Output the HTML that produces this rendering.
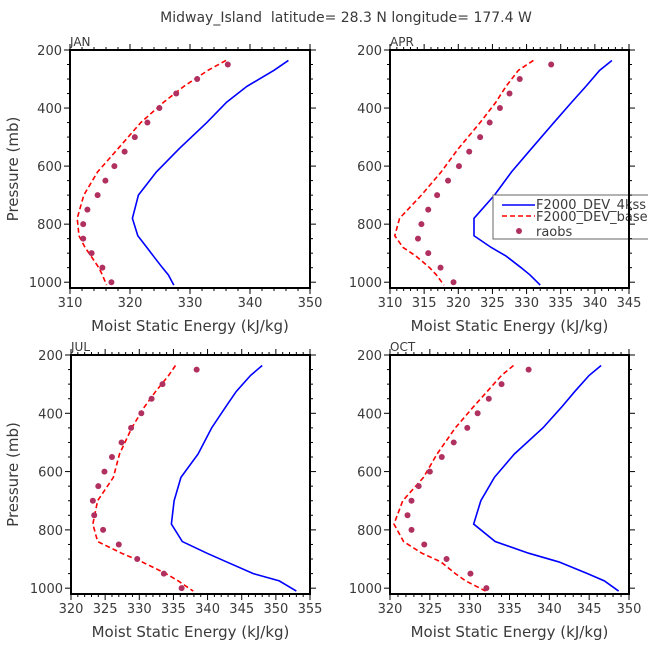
<!DOCTYPE html>
<html><head><meta charset="utf-8"><style>
html,body{margin:0;padding:0;background:#fff;}
svg text{font-family:"DejaVu Sans","Liberation Sans",sans-serif;fill:#3a3a3a;}
</style></head><body>
<svg id="chart" width="648" height="648" viewBox="0 0 648 648" xmlns="http://www.w3.org/2000/svg">
<text x="346" y="22" font-size="14" text-anchor="middle" xml:space="preserve">Midway_Island  latitude= 28.3 N longitude= 177.4 W</text>
</svg>
<script>
const modelP = [236,270,325,380,450,540,620,700,780,840,880,910,950,975,1010];
const obsP = [250,300,350,400,450,500,550,600,650,700,750,800,850,900,950,1000];
const pTicks = [200,400,600,800,1000];
const janBlue = [346.4,344,339.5,336.1,332.8,328.2,324.4,321.4,320.4,321.3,322.8,323.9,325.4,326.4,327.3];
const janRed = [336,333,329,325.6,321.8,318,314.6,312.3,311.2,311.5,312.5,313.5,314.8,315.4,316.1];
const janObs = [336.3,331.2,327.7,324.9,322.9,320.8,319.1,317.4,315.9,314.6,312.9,312.2,312.2,313.6,315.4,316.9];
const aprBlue = [342.5,340.7,338.7,336.6,334.0,330.7,327.8,325.3,322.3,322.3,324.8,327,329.2,330.5,332];
const aprRed = [331,328.8,327,325.5,323.2,320,317.5,314.6,311.4,310.7,311.9,313.8,315.8,316.8,317.9];
const aprObs = [333.6,329,327.5,326.1,324.6,323.2,321.6,320.1,318.5,316.9,315.6,314.6,314.1,315.6,317.4,319.3];
const julBlue = [348,346.3,344.2,342.6,340.6,338.6,336.1,335.1,334.7,336.3,339.9,342.8,346.7,350.5,353];
const julRed = [335.3,334.3,332.4,330.7,328.9,327.1,326.2,323.9,323.2,323.9,327.4,330.4,333.9,335.7,337.9];
const julObs = [338.4,333.4,331.8,330.3,328.8,327.4,326,324.9,324,323.2,323.4,324.7,327,329.7,333.6,336.2];
const octBlue = [346.5,345,343.2,341.5,339.2,335.6,333.1,331.4,330.5,333.2,337.4,341.2,344.8,346.9,348.7];
const octRed = [335.5,334,332.2,330.4,328.2,325.9,324.2,321.6,320.5,321.7,324,326.4,328.2,329.5,332];
const octObs = [337.4,334,332.4,331,329.7,328,326.5,325,323.6,322.7,322.2,322.7,324.3,327.1,330.1,332.1];
const janX = [310,320,330,340,350];
const aprX = [310,315,320,325,330,335,340,345];
const julX = [320,325,330,335,340,345,350,355];
const octX = [320,325,330,335,340,345,350];

const NS='http://www.w3.org/2000/svg';
const svg=document.getElementById('chart');
function mk(tag,attrs,parent){const e=document.createElementNS(NS,tag);for(const k in attrs)e.setAttribute(k,attrs[k]);(parent||svg).appendChild(e);return e;}

function panel(name,x0,x1,y0,y1,xt,minorStep,blue,red,obs,legend){
  const g=mk('g',{});
  
  
  const xmin=xt[0],xmax=xt[xt.length-1];
  const sx=v=>x0+(v-xmin)/(xmax-xmin)*(x1-x0);
  const sy=p=>y0+(p-200)/(1020-200)*(y1-y0);
  const clipId='clip-'+name;
  const cp=mk('clipPath',{id:clipId},g);
  mk('rect',{x:x0,y:y0,width:x1-x0,height:y1-y0},cp);
  const b=mk('polyline',{points:modelP.map((p,i)=>sx(blue[i])+','+sy(p)).join(' '),fill:'none',stroke:'#0000ff','stroke-width':1.6,'clip-path':'url(#'+clipId+')'},g);
  
  
  const r=mk('polyline',{points:modelP.map((p,i)=>sx(red[i])+','+sy(p)).join(' '),fill:'none',stroke:'#ff0000','stroke-width':1.6,'stroke-dasharray':'5,3','clip-path':'url(#'+clipId+')'},g);
  
  
  obs.forEach((v,i)=>{
    const c=mk('circle',{cx:sx(v),cy:sy(obsP[i]),r:3,fill:'#b03060'},g);
    
    
  });
  if(legend){
    const lg=mk('g',{},g);
    
    
    mk('rect',{x:493,y:195,width:170,height:44,fill:'#fff',stroke:'#666','stroke-width':1},lg);
    mk('line',{x1:502,y1:205,x2:535,y2:205,stroke:'#0000ff','stroke-width':1.6},lg);
    const t1=mk('text',{x:536,y:209,'font-size':13},lg);t1.textContent='F2000_DEV_4kss';
    
    
    mk('line',{x1:502,y1:216,x2:535,y2:216,stroke:'#ff0000','stroke-width':1.6,'stroke-dasharray':'5,3'},lg);
    const t2=mk('text',{x:536,y:221,'font-size':13},lg);t2.textContent='F2000_DEV_base';
    
    
    mk('circle',{cx:519,cy:231,r:3,fill:'#b03060'},lg);
    const t3=mk('text',{x:536,y:236,'font-size':13},lg);t3.textContent='raobs';
    
    
  }
  const fr=mk('rect',{x:x0,y:y0,width:x1-x0,height:y1-y0,fill:'none',stroke:'#000','stroke-width':2},g);
  
  
  for(let v=xmin;v<=xmax+1e-6;v+=minorStep){
    const major=xt.some(t=>Math.abs(t-v)<1e-6);const L=major?6:3;const X=sx(v);
    mk('line',{x1:X,y1:y1,x2:X,y2:y1+L,stroke:'#000','stroke-width':1},g);
    mk('line',{x1:X,y1:y0,x2:X,y2:y0-L,stroke:'#000','stroke-width':1},g);
  }
  xt.forEach(v=>{const t=mk('text',{x:sx(v),y:y1+19,'font-size':13,'text-anchor':'middle'},g);t.textContent=v;
    
    });
  for(let p=200;p<=1000;p+=50){
    const major=pTicks.includes(p);const L=major?6:3;const Y=sy(p);
    mk('line',{x1:x0,y1:Y,x2:x0-L,y2:Y,stroke:'#000','stroke-width':1},g);
    mk('line',{x1:x1,y1:Y,x2:x1+L,y2:Y,stroke:'#000','stroke-width':1},g);
  }
  pTicks.forEach(p=>{const t=mk('text',{x:x0-8,y:sy(p)+5,'font-size':13,'text-anchor':'end'},g);t.textContent=p;
    
    });
  const mt=mk('text',{x:x0,y:y0-4,'font-size':12},g);mt.textContent=name.toUpperCase();
  
  
  const xl=mk('text',{x:(x0+x1)/2,y:y1+43,'font-size':15,'text-anchor':'middle'},g);xl.textContent='Moist Static Energy (kJ/kg)';
  
  
  if(x0<200){
    const yc=(y0+y1)/2;
    const yl=mk('text',{x:18,y:yc,'font-size':15,'text-anchor':'middle',transform:'rotate(-90 18 '+yc+')'},g);yl.textContent='Pressure (mb)';
    
    
  }
}
panel('jan',70,310,50,288,janX,2,janBlue,janRed,janObs,false);
panel('apr',390,629,50,288,aprX,1,aprBlue,aprRed,aprObs,true);
panel('jul',71,310,355,594,julX,1,julBlue,julRed,julObs,false);
panel('oct',390,629,355,594,octX,1,octBlue,octRed,octObs,false);
</script>
</body></html>
